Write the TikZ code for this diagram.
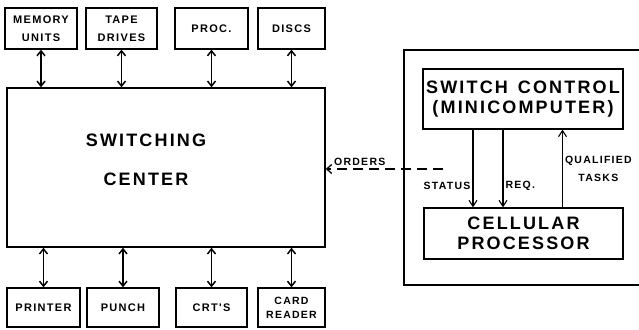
\documentclass[tikz,border=0pt]{standalone}
\usepackage{fontspec}
\usepackage{tikz}
\usetikzlibrary{arrows.meta,positioning,calc}
\newfontfamily\capsfont{Liberation Sans}[LetterSpace=12]
\newcommand{\capsize}[2]{\capsfont\bfseries\fontsize{#1}{#2}\selectfont}

\begin{document}
\begin{tikzpicture}[
    x=1pt, y=-1pt,
    unit/.style={draw, line width=1.3pt, align=center, inner sep=0pt, font=\capsize{11}{18}},
    bigbox/.style={draw, line width=1.4pt, align=center, inner sep=0pt, font=\capsize{18}{20}},
    lbl/.style={inner sep=2pt, align=center, font=\capsize{10.5}{18}},
    link/.style={{Straight Barb[length=5pt,width=8pt]}-{Straight Barb[length=5pt,width=8pt]}, line width=1.5pt},
    flow/.style={-{Straight Barb[length=6pt,width=8pt]}, line width=1.1pt},
    order/.style={-{Straight Barb[length=5pt,width=9pt]}, line width=1.3pt, dash pattern=on 10pt off 6pt}
]
\clip (0,0) rectangle (639,329);
\useasboundingbox (0,0) rectangle (639,329);

% switching center and its units
\node[draw, line width=1.5pt, minimum width=318, minimum height=159] (main) at (166,167.5) {};
\node[inner sep=0pt, align=center, font=\capsize{18}{39}] (maintext) at (146,160) {SWITCHING\\CENTER};

\node[unit, minimum width=72, minimum height=41] (mem) at (41,28.5) {MEMORY\\UNITS};
\node[unit, minimum width=71, minimum height=41] (tape) at (121.5,28.5) {TAPE\\DRIVES};
\node[unit, minimum width=73, minimum height=41] (proc) at (211.5,28.5) {PROC.};
\node[unit, minimum width=67, minimum height=41] (discs) at (291.5,28.5) {DISCS};

\node[unit, minimum width=73, minimum height=39] (printer) at (43.5,307.5) {PRINTER};
\node[unit, minimum width=72, minimum height=39] (punch) at (123,307.5) {PUNCH};
\node[unit, minimum width=71, minimum height=39] (crt) at (211.5,307.5) {CRT'S};
\node[unit, minimum width=67, minimum height=39, font=\capsize{10.5}{14}] (card) at (291.5,307.5) {CARD\\READER};

\foreach \u in {mem,tape,proc,discs}
    \draw[link] (\u.south) -- (\u.south |- main.north);
\foreach \u in {printer,punch,crt,card}
    \draw[link] (\u.north) -- (\u.north |- main.south);

% cellular side
\node[draw, line width=1.3pt, minimum width=242, minimum height=235] (outer) at (525,167.5) {};
\node[bigbox, minimum width=200, minimum height=60] (swc) at (523,99) {SWITCH\hspace{10pt}CONTROL\\(MINICOMPUTER)};
\node[bigbox, minimum width=199, minimum height=51] (cell) at (523.5,233.5) {CELLULAR\\PROCESSOR};

\draw[flow] ([xshift=-50]swc.south) -- node[lbl, left, pos=0.73] {STATUS} ([xshift=-50]swc.south |- cell.north);
\draw[flow] ([xshift=-20]swc.south) -- node[lbl, right, pos=0.73] {REQ.} ([xshift=-20]swc.south |- cell.north);
\draw[flow] ([xshift=39]cell.north) -- node[lbl, right, pos=0.5] {QUALIFIED\\TASKS} ([xshift=39]cell.north |- swc.south);

\coordinate (ordend) at (443,169);
\draw[order] (ordend) -- node[lbl, pos=0.71, above=1pt] {ORDERS} (ordend -| main.east);

\end{tikzpicture}
\end{document}
